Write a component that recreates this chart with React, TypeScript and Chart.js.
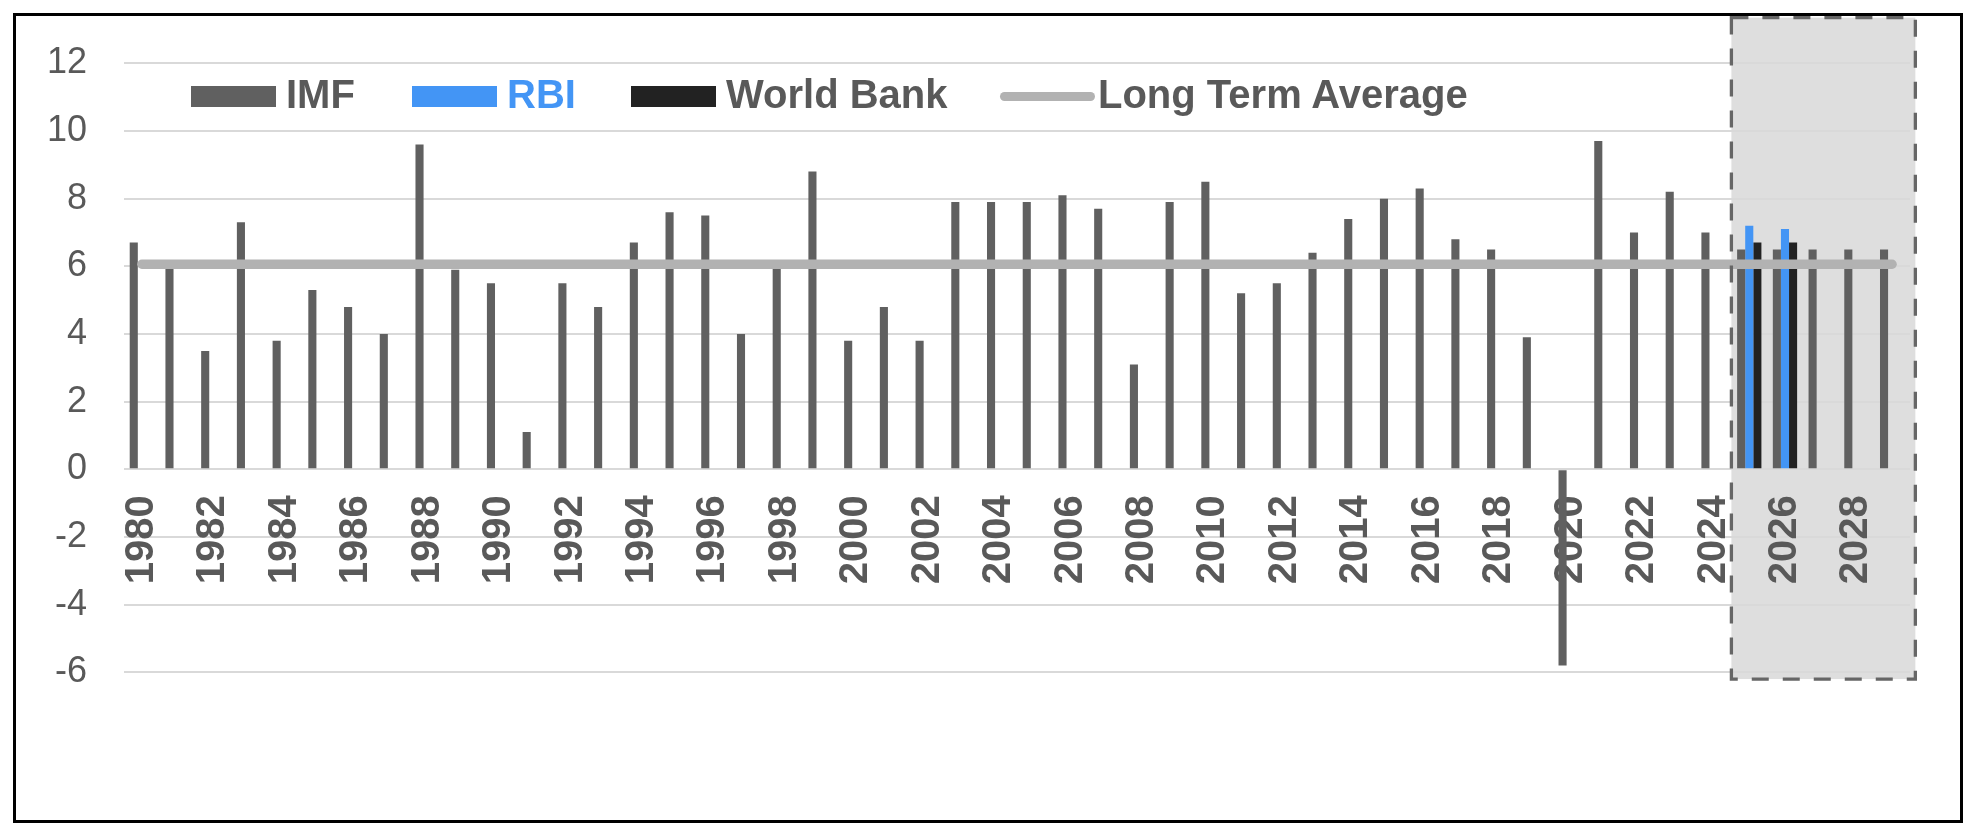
import React, { useEffect, useRef } from 'react';
import Chart from 'chart.js/auto';

// categories
const years = [
  '1980', '1981', '1982', '1983', '1984', '1985', '1986', '1987', '1988', '1989',
  '1990', '1991', '1992', '1993', '1994', '1995', '1996', '1997', '1998', '1999',
  '2000', '2001', '2002', '2003', '2004', '2005', '2006', '2007', '2008', '2009',
  '2010', '2011', '2012', '2013', '2014', '2015', '2016', '2017', '2018', '2019',
  '2020', '2021', '2022', '2023', '2024', '2025', '2026', '2027', '2028', '2029',
];

// GDP growth, %
const imf = [
  6.7, 6.0, 3.5, 7.3, 3.8, 5.3, 4.8, 4.0, 9.6, 5.9,
  5.5, 1.1, 5.5, 4.8, 6.7, 7.6, 7.5, 4.0, 6.1, 8.8,
  3.8, 4.8, 3.8, 7.9, 7.9, 7.9, 8.1, 7.7, 3.1, 7.9,
  8.5, 5.2, 5.5, 6.4, 7.4, 8.0, 8.3, 6.8, 6.5, 3.9,
  -5.8, 9.7, 7.0, 8.2, 7.0, 6.5, 6.5, 6.5, 6.5, 6.5,
];

const rbi: (number | null)[] = [
  null, null, null, null, null, null, null, null, null, null,
  null, null, null, null, null, null, null, null, null, null,
  null, null, null, null, null, null, null, null, null, null,
  null, null, null, null, null, null, null, null, null, null,
  null, null, null, null, null, 7.2, 7.1, null, null, null,
];

const worldBank: (number | null)[] = [
  null, null, null, null, null, null, null, null, null, null,
  null, null, null, null, null, null, null, null, null, null,
  null, null, null, null, null, null, null, null, null, null,
  null, null, null, null, null, null, null, null, null, null,
  null, null, null, null, null, 6.7, 6.7, null, null, null,
];

const longTermAverage = 6.06;

// forecast box, in axis units (category index / value)
const SHADE = { x0: 44.5, x1: 49.65, yTop: 13.35, yBottom: -6.2 };

const FONT = "'Liberation Sans', Arial, sans-serif";
const TEXT_GREY = '#595959';
const IMF_COLOR = '#606060';
const RBI_COLOR = '#4395F5';
const WB_COLOR = '#222222';
const AVG_COLOR = '#B2B2B2';

function shadeRect(chart: any) {
  const x = chart.scales.x;
  const y = chart.scales.y;
  const left = x.getPixelForValue(SHADE.x0);
  const right = x.getPixelForValue(SHADE.x1);
  const top = y.getPixelForValue(SHADE.yTop);
  const bottom = y.getPixelForValue(SHADE.yBottom);
  return { left, top, w: right - left, h: bottom - top };
}

const forecastShade = {
  id: 'forecastShade',
  beforeDraw(chart: any) {
    const r = shadeRect(chart);
    const ctx = chart.ctx;
    ctx.save();
    ctx.fillStyle = '#DEDEDE';
    ctx.fillRect(r.left, r.top, r.w, r.h);
    ctx.restore();
  },
  afterDraw(chart: any) {
    const r = shadeRect(chart);
    const ctx = chart.ctx;
    ctx.save();
    ctx.strokeStyle = '#666666';
    ctx.lineWidth = 3.3;
    ctx.setLineDash([17, 14]);
    ctx.strokeRect(r.left, r.top, r.w, r.h);
    ctx.restore();
  },
};

function LegendItem({ left, label, color, textColor, line }: {
  left: number; label: string; color: string; textColor: string; line?: boolean;
}) {
  return (
    <div style={{ position: 'absolute', left, top: 74, height: 40, display: 'flex', alignItems: 'center' }}>
      <span
        style={{
          display: 'inline-block',
          position: 'relative',
          top: 2,
          width: line ? 95 : 85,
          height: line ? 9 : 21,
          borderRadius: line ? 5 : 0,
          background: color,
          marginRight: line ? 3 : 10,
        }}
      />
      <span style={{ fontFamily: FONT, fontWeight: 700, fontSize: 40, lineHeight: '40px', color: textColor, whiteSpace: 'nowrap' }}>
        {label}
      </span>
    </div>
  );
}

export default function App() {
  const canvasRef = useRef<HTMLCanvasElement>(null);
  const chartInstance = useRef<Chart | null>(null);

  useEffect(() => {
    if (!canvasRef.current) return;
    if (chartInstance.current) chartInstance.current.destroy();

    chartInstance.current = new Chart(canvasRef.current, {
      type: 'bar',
      data: {
        labels: years,
        datasets: [
          {
            type: 'line',
            label: 'Long Term Average',
            data: years.map(() => longTermAverage),
            borderColor: AVG_COLOR,
            borderWidth: 9.3,
            borderCapStyle: 'round',
            pointRadius: 0,
            fill: false,
            order: -1,
          } as any,
          { label: 'IMF', data: imf, backgroundColor: IMF_COLOR, borderWidth: 0 },
          { label: 'RBI', data: rbi, backgroundColor: RBI_COLOR, borderWidth: 0 },
          { label: 'World Bank', data: worldBank, backgroundColor: WB_COLOR, borderWidth: 0 },
        ],
      },
      options: {
        responsive: false,
        animation: false,
        datasets: {
          bar: { barPercentage: 1, categoryPercentage: 0.68 },
        },
        layout: { padding: { left: 0, right: 66, top: 63.3, bottom: 161.7 } },
        plugins: {
          legend: { display: false },
          tooltip: { enabled: false },
        },
        scales: {
          x: {
            position: { y: 0 } as any,
            grid: { display: false, drawTicks: false },
            border: { display: false },
            ticks: {
              autoSkip: false,
              minRotation: 90,
              maxRotation: 90,
              padding: 26,
              color: TEXT_GREY,
              font: { family: FONT, size: 40, weight: 'bold' },
              callback: (_v: any, i: number) => (i % 2 === 0 ? years[i] : ''),
            },
          },
          y: {
            min: -6,
            max: 12,
            grid: { color: '#D9D9D9', lineWidth: 2, drawTicks: false },
            border: { display: false },
            ticks: {
              stepSize: 2,
              padding: 37,
              color: TEXT_GREY,
              font: { family: FONT, size: 36 },
            },
            afterFit: (scale: any) => {
              scale.width = 124;
            },
          },
        },
      },
      plugins: [forecastShade],
    });

    return () => {
      if (chartInstance.current) {
        chartInstance.current.destroy();
        chartInstance.current = null;
      }
    };
  }, []);

  return (
    <div style={{ position: 'fixed', left: 0, top: 0, width: 1976, height: 834, background: '#ffffff', overflow: 'hidden' }}>
      <canvas ref={canvasRef} width={1976} height={834} style={{ position: 'absolute', left: 0, top: 0 }} />
      <LegendItem left={191} label="IMF" color={IMF_COLOR} textColor={TEXT_GREY} />
      <LegendItem left={412} label="RBI" color={RBI_COLOR} textColor={RBI_COLOR} />
      <LegendItem left={631} label="World Bank" color={WB_COLOR} textColor={TEXT_GREY} />
      <LegendItem left={1000} label="Long Term Average" color={AVG_COLOR} textColor={TEXT_GREY} line />
      <div
        style={{
          position: 'absolute',
          left: 13,
          top: 13,
          width: 1950,
          height: 810,
          border: '3px solid #000',
          boxSizing: 'border-box',
          pointerEvents: 'none',
        }}
      />
    </div>
  );
}
